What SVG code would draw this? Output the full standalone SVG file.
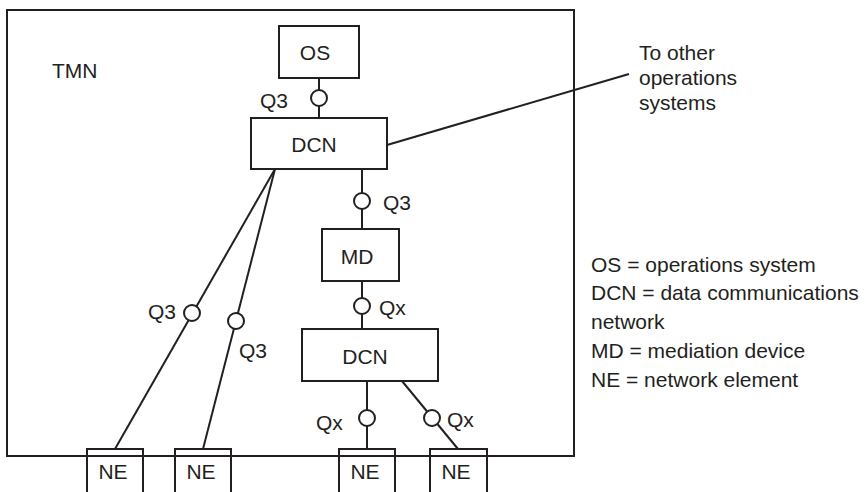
<svg xmlns="http://www.w3.org/2000/svg" width="865" height="492" viewBox="0 0 865 492">
<style>
.box{fill:none;stroke:#231f20;stroke-width:2}
.ln{stroke:#231f20;stroke-width:2;fill:none}
.if{fill:#fff;stroke:#231f20;stroke-width:2}
text{font-family:"Liberation Sans",Arial,sans-serif;font-size:21px;fill:#231f20}
.c{text-anchor:middle}
</style>
<rect width="865" height="492" fill="#fff"/>
<g id="tmn">
<rect class="box" x="7" y="10" width="567" height="446"/>
<text x="52" y="78">TMN</text>
</g>
<g id="connectors">
<line class="ln" x1="319" y1="78" x2="319" y2="118"/>
<line class="ln" x1="362" y1="169" x2="362" y2="229"/>
<line class="ln" x1="362" y1="281" x2="362" y2="329"/>
<line class="ln" x1="367" y1="381" x2="367" y2="449"/>
<line class="ln" x1="402" y1="381" x2="458" y2="449"/>
<line class="ln" x1="275" y1="169" x2="115" y2="449"/>
<line class="ln" x1="275" y1="169" x2="203" y2="449"/>
<line class="ln" x1="387" y1="145" x2="629" y2="74"/>
<circle class="if" cx="319" cy="98" r="8"/>
<circle class="if" cx="362" cy="201" r="8"/>
<circle class="if" cx="362" cy="306" r="8"/>
<circle class="if" cx="367" cy="418" r="8"/>
<circle class="if" cx="432" cy="418" r="8"/>
<circle class="if" cx="192" cy="313" r="8"/>
<circle class="if" cx="236" cy="321" r="8"/>
<text x="260" y="108">Q3</text>
<text x="383" y="210">Q3</text>
<text x="379" y="315">Qx</text>
<text x="316" y="430">Qx</text>
<text x="447" y="427">Qx</text>
<text x="148" y="319">Q3</text>
<text x="239" y="358">Q3</text>
</g>
<g id="os">
<rect class="box" x="279" y="26" width="80" height="52"/>
<text class="c" x="315" y="60">OS</text>
</g>
<g id="dcn1">
<rect class="box" x="251" y="118" width="136" height="51"/>
<text class="c" x="314" y="152">DCN</text>
</g>
<g id="md">
<rect class="box" x="322" y="229" width="77" height="52"/>
<text class="c" x="357" y="264">MD</text>
</g>
<g id="dcn2">
<rect class="box" x="302" y="329" width="136" height="52"/>
<text class="c" x="365" y="364">DCN</text>
</g>
<g id="ne1">
<rect class="box" x="87" y="449" width="56" height="50"/>
<text class="c" x="113" y="479">NE</text>
</g>
<g id="ne2">
<rect class="box" x="175" y="449" width="56" height="50"/>
<text class="c" x="201" y="479">NE</text>
</g>
<g id="ne3">
<rect class="box" x="339" y="449" width="56" height="50"/>
<text class="c" x="365" y="479">NE</text>
</g>
<g id="ne4">
<rect class="box" x="430" y="449" width="57" height="50"/>
<text class="c" x="456" y="479">NE</text>
</g>
<g id="other">
<text x="639" y="60">To other</text>
<text x="639" y="85">operations</text>
<text x="639" y="110">systems</text>
</g>
<g id="legend">
<text x="591" y="272">OS = operations system</text>
<text x="591" y="300">DCN = data communications</text>
<text x="591" y="329">network</text>
<text x="591" y="358">MD = mediation device</text>
<text x="591" y="387">NE = network element</text>
</g>
</svg>
